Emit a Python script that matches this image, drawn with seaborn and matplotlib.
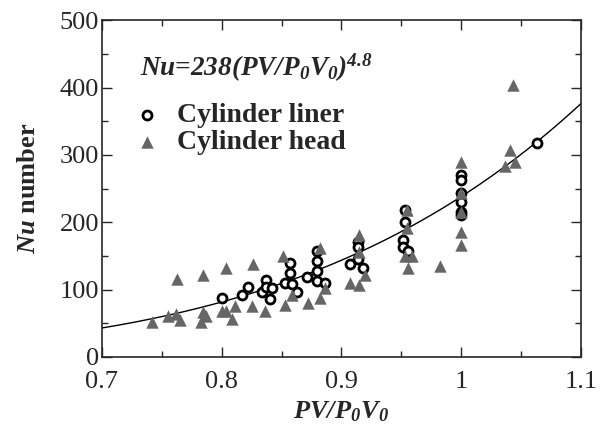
import numpy as np
import pandas as pd
import seaborn as sns
import matplotlib
matplotlib.use("Agg")
import matplotlib.pyplot as plt
from matplotlib.ticker import MultipleLocator, FuncFormatter

# Cylinder liner (open circles)
liner_x = [0.800, 0.817, 0.822, 0.834, 0.837, 0.837, 0.840, 0.842, 0.853, 0.857,
           0.857, 0.859, 0.863, 0.871, 0.880, 0.880, 0.880, 0.880, 0.886, 0.907,
           0.914, 0.914, 0.914, 0.918, 0.951, 0.951, 0.953, 0.953, 0.956, 1.000,
           1.000, 1.000, 1.000, 1.000, 1.000, 1.063]
liner_y = [88, 92, 104, 97, 114, 104, 86, 102, 110, 140,
           124, 108, 96, 118, 158, 143, 128, 113, 110, 138,
           171, 163, 145, 132, 174, 163, 218, 200, 158, 270,
           263, 243, 230, 215, 211, 318]

# Cylinder head (grey triangles)
head_x = [0.742, 0.755, 0.762, 0.765, 0.763, 0.784, 0.804, 0.784, 0.787, 0.783,
          0.800, 0.804, 0.809, 0.811, 0.825, 0.826, 0.836, 0.851, 0.853, 0.859,
          0.872, 0.882, 0.882, 0.886, 0.907, 0.915, 0.915, 0.915, 0.920, 0.955,
          0.955, 0.953, 0.959, 0.956, 0.982, 1.000, 1.000, 1.000, 1.000, 1.000,
          1.037, 1.041, 1.045, 1.043]
head_y = [52, 60, 64, 55, 116, 122, 132, 66, 60, 52,
          68, 68, 57, 76, 75, 138, 68, 150, 77, 92,
          80, 88, 162, 102, 110, 181, 156, 107, 122, 218,
          191, 150, 150, 132, 135, 289, 243, 215, 185, 166,
          283, 307, 289, 404]

# fitted correlation
coef = 238
expo = 4.8
fit_x = np.linspace(0.7, 1.1, 200)
fit_y = coef * fit_x ** expo

liner = pd.DataFrame({"x": liner_x, "y": liner_y})
head = pd.DataFrame({"x": head_x, "y": head_y})
fit = pd.DataFrame({"x": fit_x, "y": fit_y})

sns.set_style("ticks")
plt.rcParams["font.family"] = ["Liberation Serif", "DejaVu Serif"]
plt.rcParams["mathtext.fontset"] = "custom"
plt.rcParams["mathtext.rm"] = "Liberation Serif"
plt.rcParams["mathtext.it"] = "Liberation Serif:italic"
plt.rcParams["mathtext.bf"] = "Liberation Serif:bold"
plt.rcParams["mathtext.bfit"] = "Liberation Serif:bold:italic"

fig = plt.figure(figsize=(6.07, 4.30), dpi=100)
ax = fig.add_axes([0.168, 0.170, 0.789, 0.783])

sns.lineplot(data=fit, x="x", y="y", color="black", linewidth=1.0, ax=ax)
sns.scatterplot(data=liner, x="x", y="y", marker="o", s=42, facecolor="white",
                edgecolor="black", linewidth=2.0, label="Cylinder liner", ax=ax, zorder=3)
sns.scatterplot(data=head, x="x", y="y", marker="^", s=80, color="#666666",
                linewidth=0, label="Cylinder head", ax=ax, zorder=4)

ax.set_xlim(0.7, 1.1)
ax.set_ylim(0, 500)
ax.xaxis.set_major_locator(MultipleLocator(0.1))
ax.xaxis.set_minor_locator(MultipleLocator(0.05))
ax.yaxis.set_major_locator(MultipleLocator(100))
ax.yaxis.set_minor_locator(MultipleLocator(50))
ax.xaxis.set_major_formatter(FuncFormatter(lambda v, p: f"{v:g}"))
ax.tick_params(which="both", direction="in", top=True, right=True, labelsize=19, width=1.0)
ax.tick_params(which="major", length=7)
ax.tick_params(which="minor", length=4)
ax.tick_params(axis="y", pad=2)
ax.tick_params(axis="x", pad=10)
for sp in ax.spines.values():
    sp.set_linewidth(1.2)

ax.set_xlabel(r"$\mathbfit{PV/P_0V_0}$", fontsize=19, labelpad=5)
ax.set_ylabel(r"$\mathbfit{Nu}$ number", fontsize=19, fontweight="bold", labelpad=14)

ax.text(0.079, 0.858, r"Nu=238(PV/$\mathbfit{P_0V_0)^{4.8}}$", transform=ax.transAxes,
        fontsize=19.5, fontstyle="italic", fontweight="bold", va="center", ha="left")

ax.legend(loc="upper left", bbox_to_anchor=(0.064, 0.755), frameon=False,
          prop={"weight": "bold", "size": 20}, handlelength=1.0, handletextpad=0.6,
          labelspacing=0.05, borderpad=0, borderaxespad=0)

fig.savefig("out.png", dpi=100)
